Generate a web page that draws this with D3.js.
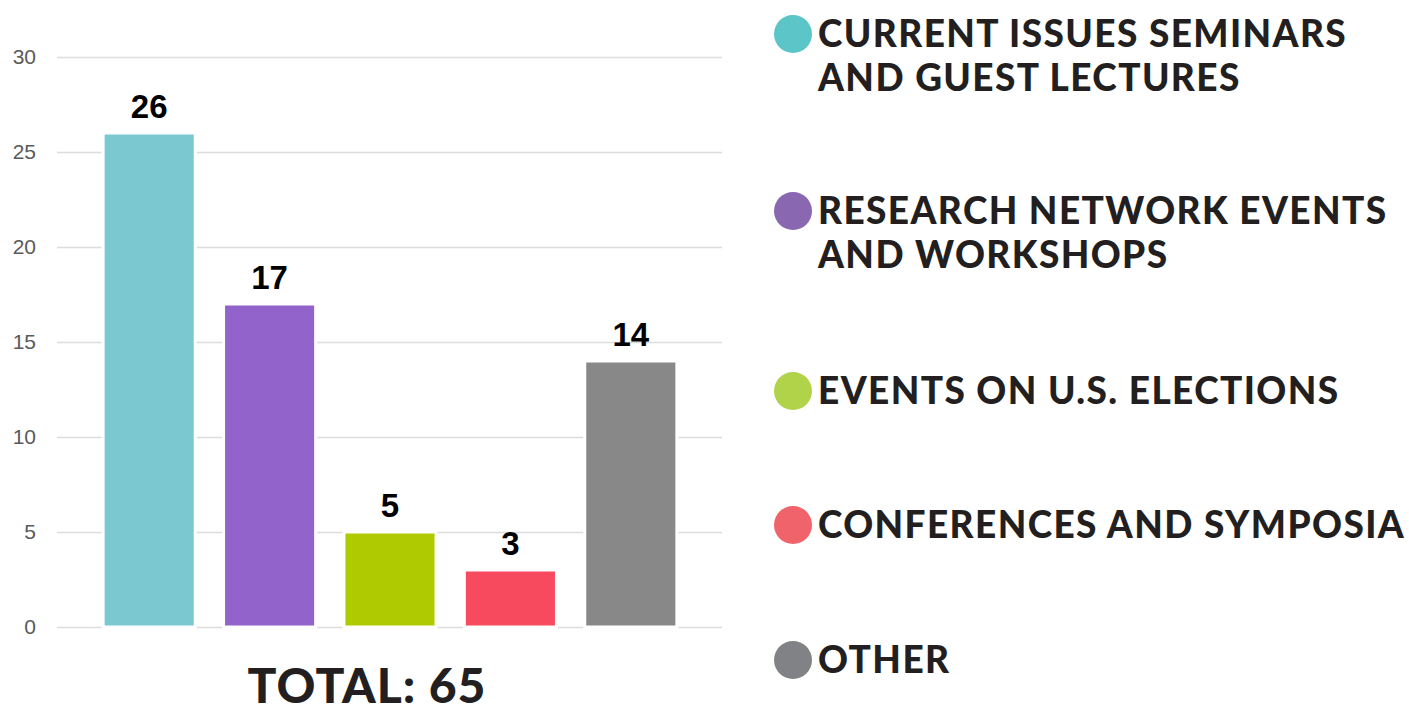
<!DOCTYPE html>
<html>
<head>
<meta charset="utf-8">
<script src="https://cdn.jsdelivr.net/npm/d3@7"></script>
<style>
  body { margin: 0; background: #fff; }
  svg { display: block; }
</style>
</head>
<body>
<svg width="1409" height="713"></svg>
<script>
// Chart data.
const categories = ["Current issues seminars and guest lectures", "Research network events and workshops", "Events on U.S. elections", "Conferences and symposia", "Other"];
const values = [26, 17, 5, 3, 14];
const yTicks = [0, 5, 10, 15, 20, 25, 30];
const legendLines = [
  ["CURRENT ISSUES SEMINARS", "AND GUEST LECTURES"],
  ["RESEARCH NETWORK EVENTS", "AND WORKSHOPS"],
  ["EVENTS ON U.S. ELECTIONS"],
  ["CONFERENCES AND SYMPOSIA"],
  ["OTHER"]
];
const totalLabel = "TOTAL: 65";

// Colours: bars and the legend dots use slightly different shades.
const barColours = ["#7bc8d1", "#9263cb", "#afcb00", "#f74a5e", "#888888"];
const dotColours = ["#5bc5c8", "#8a67b1", "#b0d34a", "#f1636a", "#808285"];

let svg = d3.select("svg");

// Scales.
let x = d3.scaleBand()
    .domain(categories)
    .range([89, 691])
    .paddingInner(0.26)
    .paddingOuter(0.13);

let y = d3.scaleLinear()
    .domain([0, 30])
    .range([627, 57]);

// Gridlines and tick labels.
let yAxis = d3.axisLeft(y)
    .tickValues(yTicks)
    .tickSize(-(722 - 57))
    .tickPadding(21);

let axisG = svg.append("g")
    .attr("transform", "translate(57,0)")
    .call(yAxis);

axisG.select(".domain").remove();
axisG.selectAll(".tick line")
    .attr("stroke", "#dcdcdc")
    .attr("stroke-width", 1.5);
axisG.selectAll(".tick text")
    .attr("fill", "#5a5a5a")
    .style("font-family", "'Liberation Sans', Arial, sans-serif")
    .style("font-size", "21px");

// Bars: a white halo cuts the gridlines, then the coloured fill.
let bars = svg.append("g");

bars.selectAll("rect.halo")
    .data(values)
    .join("rect")
    .attr("class", "halo")
    .attr("x", (d, i) => x(categories[i]) - 3)
    .attr("y", d => y(d) - 1)
    .attr("width", x.bandwidth() + 6)
    .attr("height", d => y(0) - y(d) + 3)
    .attr("fill", "#fff");

bars.selectAll("rect.bar")
    .data(values)
    .join("rect")
    .attr("class", "bar")
    .attr("x", (d, i) => x(categories[i]))
    .attr("y", d => y(d) + 1.5)
    .attr("width", x.bandwidth())
    .attr("height", d => y(0) - y(d) - 3)
    .attr("fill", (d, i) => barColours[i]);

// Value labels above bars.
bars.selectAll("text.value")
    .data(values)
    .join("text")
    .attr("class", "value")
    .attr("x", (d, i) => x(categories[i]) + x.bandwidth() / 2)
    .attr("y", d => y(d) - 15.5)
    .attr("text-anchor", "middle")
    .attr("fill", "#000")
    .style("font-family", "'Liberation Sans', Arial, sans-serif")
    .style("font-weight", "bold")
    .style("font-size", "33px")
    .text(d => d);

// Total under the chart.
svg.append("text")
    .attr("x", 367)
    .attr("y", 703)
    .attr("text-anchor", "middle")
    .attr("fill", "#231f20")
    .style("font-family", "Lato, sans-serif")
    .style("font-weight", 900)
    .style("font-size", "48px")
    .style("letter-spacing", "1px")
    .text(totalLabel);

// Legend.
const legendY = [34, 211, 391, 525, 660];
const lineGap = 44;

let legend = svg.append("g");

legendLines.forEach(function (lines, i) {
    let row = legend.append("g");
    row.append("circle")
        .attr("cx", 793)
        .attr("cy", legendY[i])
        .attr("r", 19)
        .attr("fill", dotColours[i]);

    lines.forEach(function (line, j) {
        row.append("text")
            .attr("x", 818)
            .attr("y", legendY[i] + 13 + j * lineGap)
            .attr("fill", "#231f20")
            .style("font-family", "Lato, sans-serif")
            .style("font-weight", 900)
            .style("font-size", "37px")
            .style("letter-spacing", "1.4px")
            .text(line);
    });
});
</script>
</body>
</html>
